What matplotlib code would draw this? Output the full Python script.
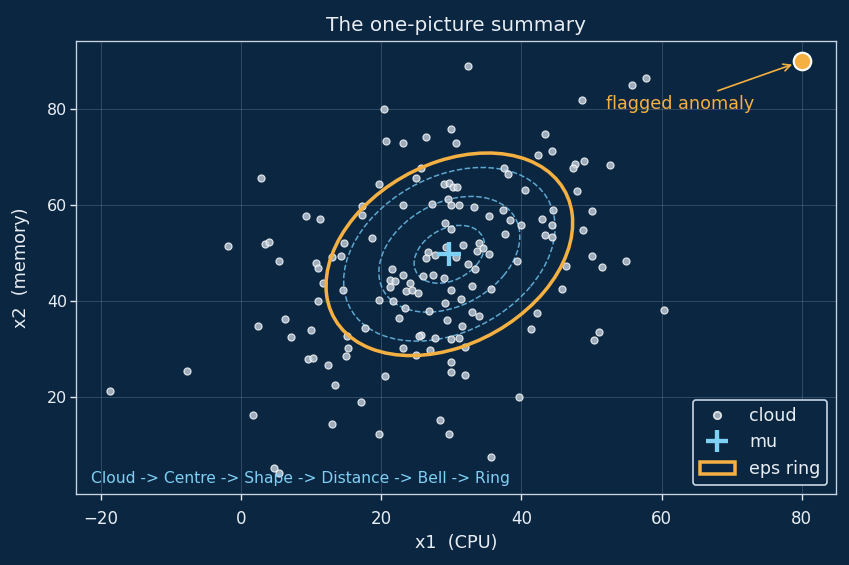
import numpy as np
import matplotlib
matplotlib.use("Agg")
import matplotlib.pyplot as plt
from matplotlib.patches import Ellipse, Patch
from matplotlib.lines import Line2D

# point cloud
cloud_x = [-18.7, -7.7, -1.9, 2.8, 3.4, 3.9, 2.4, 1.6, 17.3, 17.3, 9.2, 11.3, 14.6, 18.7,
           5.4, 10.7, 11.0, 12.9, 14.3, 11.7, 14.5, 11.0, 19.6, 6.2, 9.9, 7.1, 15.1, 17.6,
           23.1, 27.2, 29.5, 30.0, 29.1, 30.0, 29.2, 26.7, 26.4, 27.6, 21.5, 23.1, 21.2, 21.9,
           21.2, 24.1, 23.5, 24.4, 25.2, 26.0, 27.4, 29.0, 29.9, 29.1, 21.7, 23.4, 26.8, 22.5,
           29.3, 25.7, 25.4, 27.6, 30.0, 20.4, 20.6, 23.1, 26.3, 30.0, 30.7, 25.7, 24.9, 19.7,
           29.0, 29.6, 30.2, 32.4, 48.7, 55.8, 57.8, 43.4, 44.4, 42.4, 47.6, 47.3, 48.9, 52.7,
           37.5, 38.1, 30.8, 40.5, 47.9, 31.1, 33.2, 37.3, 35.3, 38.3, 44.5, 42.9, 50.0, 40.0,
           44.4, 37.6, 43.3, 44.4, 48.8, 31.7, 33.9, 34.5, 33.6, 35.3, 30.7, 39.4, 50.0, 54.9,
           51.5, 32.4, 33.3, 46.4, 33.0, 35.7, 45.8, 31.3, 33.0, 33.9, 42.2, 31.5, 41.4, 31.1,
           51.1, 50.4, 60.3, 15.3, 15.0, 9.5, 10.2, 12.4, 13.4, 20.5, 17.1, 12.9, 19.7, 28.3,
           29.7, 23.1, 24.9, 27.0, 29.9, 29.9, 4.7, 5.4, 31.9, 32.0, 39.7, 35.7]
cloud_y = [21.3, 25.6, 51.5, 65.7, 52.0, 52.4, 34.8, 16.4, 59.9, 57.9, 57.8, 57.2, 52.2, 53.2,
           48.5, 48.0, 46.9, 49.2, 49.4, 43.8, 42.3, 40.0, 40.3, 36.3, 34.1, 32.6, 32.7, 34.4,
           60.1, 60.3, 61.4, 60.0, 56.4, 55.0, 51.3, 50.3, 49.1, 49.6, 46.7, 45.4, 44.4, 44.2,
           43.0, 43.8, 42.1, 42.4, 41.7, 45.3, 45.4, 44.9, 42.3, 39.6, 40.0, 38.6, 38.0, 36.5,
           36.1, 33.0, 32.7, 32.4, 32.2, 80.0, 73.4, 72.9, 74.2, 75.8, 72.9, 67.8, 65.6, 64.4,
           64.4, 64.7, 63.8, 89.0, 81.9, 85.0, 86.5, 74.8, 71.3, 70.4, 68.5, 67.8, 69.2, 68.3,
           67.8, 66.5, 63.9, 63.2, 63.0, 60.1, 59.6, 59.0, 57.7, 56.9, 59.0, 57.1, 58.8, 55.8,
           55.8, 54.1, 53.8, 53.3, 54.8, 51.7, 52.1, 51.1, 50.4, 49.9, 49.2, 48.5, 49.4, 48.3,
           47.1, 47.7, 46.8, 47.3, 43.1, 42.5, 42.5, 40.4, 37.8, 36.9, 37.6, 34.8, 34.2, 32.4,
           33.6, 31.9, 38.3, 30.3, 28.7, 28.0, 28.3, 26.8, 22.5, 24.4, 19.0, 14.4, 12.4, 15.2,
           12.4, 30.3, 28.9, 29.9, 27.3, 25.2, 5.3, 4.2, 30.5, 24.6, 20.0, 7.7]

mu = [29.7, 49.8]
cov = [[25.3, 9.4], [9.4, 36.3]]
dashed_levels = [1, 2, 3]
eps_level = 3.5
anomaly = [80.0, 90.0]

BG = "#0b2640"
ORANGE = "#f5b042"
LIGHTBLUE = "#7fd0f5"
FG = "#e8eef4"


def ring(level, **kw):
    vals, vecs = np.linalg.eigh(np.array(cov))
    angle = np.degrees(np.arctan2(vecs[1, 1], vecs[0, 1]))
    w = 2 * level * np.sqrt(vals[1])
    h = 2 * level * np.sqrt(vals[0])
    return Ellipse(mu, w, h, angle=angle, fill=False, **kw)


fig = plt.figure(figsize=(849 / 120, 565 / 120), dpi=120, facecolor=BG)
ax = fig.add_axes([0.0895, 0.1257, 0.8952, 0.8017])
ax.set_facecolor(BG)

ax.grid(True, color="#9fb3c8", alpha=0.25, linewidth=0.6)
ax.set_axisbelow(True)

ax.scatter(cloud_x, cloud_y, s=18, color="#c3ceda", alpha=0.8,
           edgecolors="white", linewidths=0.7, zorder=3)

for lv in dashed_levels:
    ax.add_patch(ring(lv, edgecolor="#6cc0ec", linestyle="--", linewidth=0.9,
                      alpha=0.85, zorder=2))
ax.add_patch(ring(eps_level, edgecolor=ORANGE, linewidth=2.1, zorder=4))

ax.plot(mu[0], mu[1], marker="+", markersize=14, markeredgewidth=2.6,
        color=LIGHTBLUE, linestyle="none", zorder=5)

ax.scatter([anomaly[0]], [anomaly[1]], s=110, color=ORANGE, edgecolors="white",
           linewidths=1.3, zorder=6)
ax.annotate("flagged anomaly", xy=(anomaly[0], anomaly[1]), xytext=(52, 80),
            color=ORANGE, fontsize=10.6,
            arrowprops=dict(arrowstyle="->", color=ORANGE, lw=1.0, shrinkB=6))

ax.text(0.02, 0.025, "Cloud -> Centre -> Shape -> Distance -> Bell -> Ring",
        transform=ax.transAxes, color=LIGHTBLUE, fontsize=9.3)

ax.set_xlim(-23.6, 84.9)
ax.set_ylim(-0.1, 94.2)
ax.set_xticks([-20, 0, 20, 40, 60, 80])
ax.set_yticks([20, 40, 60, 80])
ax.tick_params(colors=FG, labelsize=10)
ax.tick_params(axis="x", pad=6)
ax.tick_params(axis="y", labelsize=9.5, pad=2)
for sp in ax.spines.values():
    sp.set_color("#c8d6e4")

ax.set_title("The one-picture summary", color=FG, fontsize=12)
ax.set_xlabel("x1  (CPU)", color=FG, fontsize=10.6, labelpad=4)
ax.set_ylabel("x2  (memory)", color=FG, fontsize=10.6, labelpad=10)

handles = [
    Line2D([], [], marker="o", linestyle="none", markersize=4.5,
           markerfacecolor="#c3ceda", markeredgecolor="white", alpha=0.8),
    Line2D([], [], marker="+", linestyle="none", markersize=13,
           markeredgewidth=2.6, color=LIGHTBLUE),
    Patch(facecolor=BG, edgecolor=ORANGE, linewidth=2.1),
]
leg = ax.legend(handles, ["cloud", "mu", "eps ring"], loc="lower right",
                facecolor=BG, edgecolor="#c8d6e4", fontsize=10.5, framealpha=1)
for t in leg.get_texts():
    t.set_color(FG)

fig.savefig("out.png", dpi=120, facecolor=BG)
